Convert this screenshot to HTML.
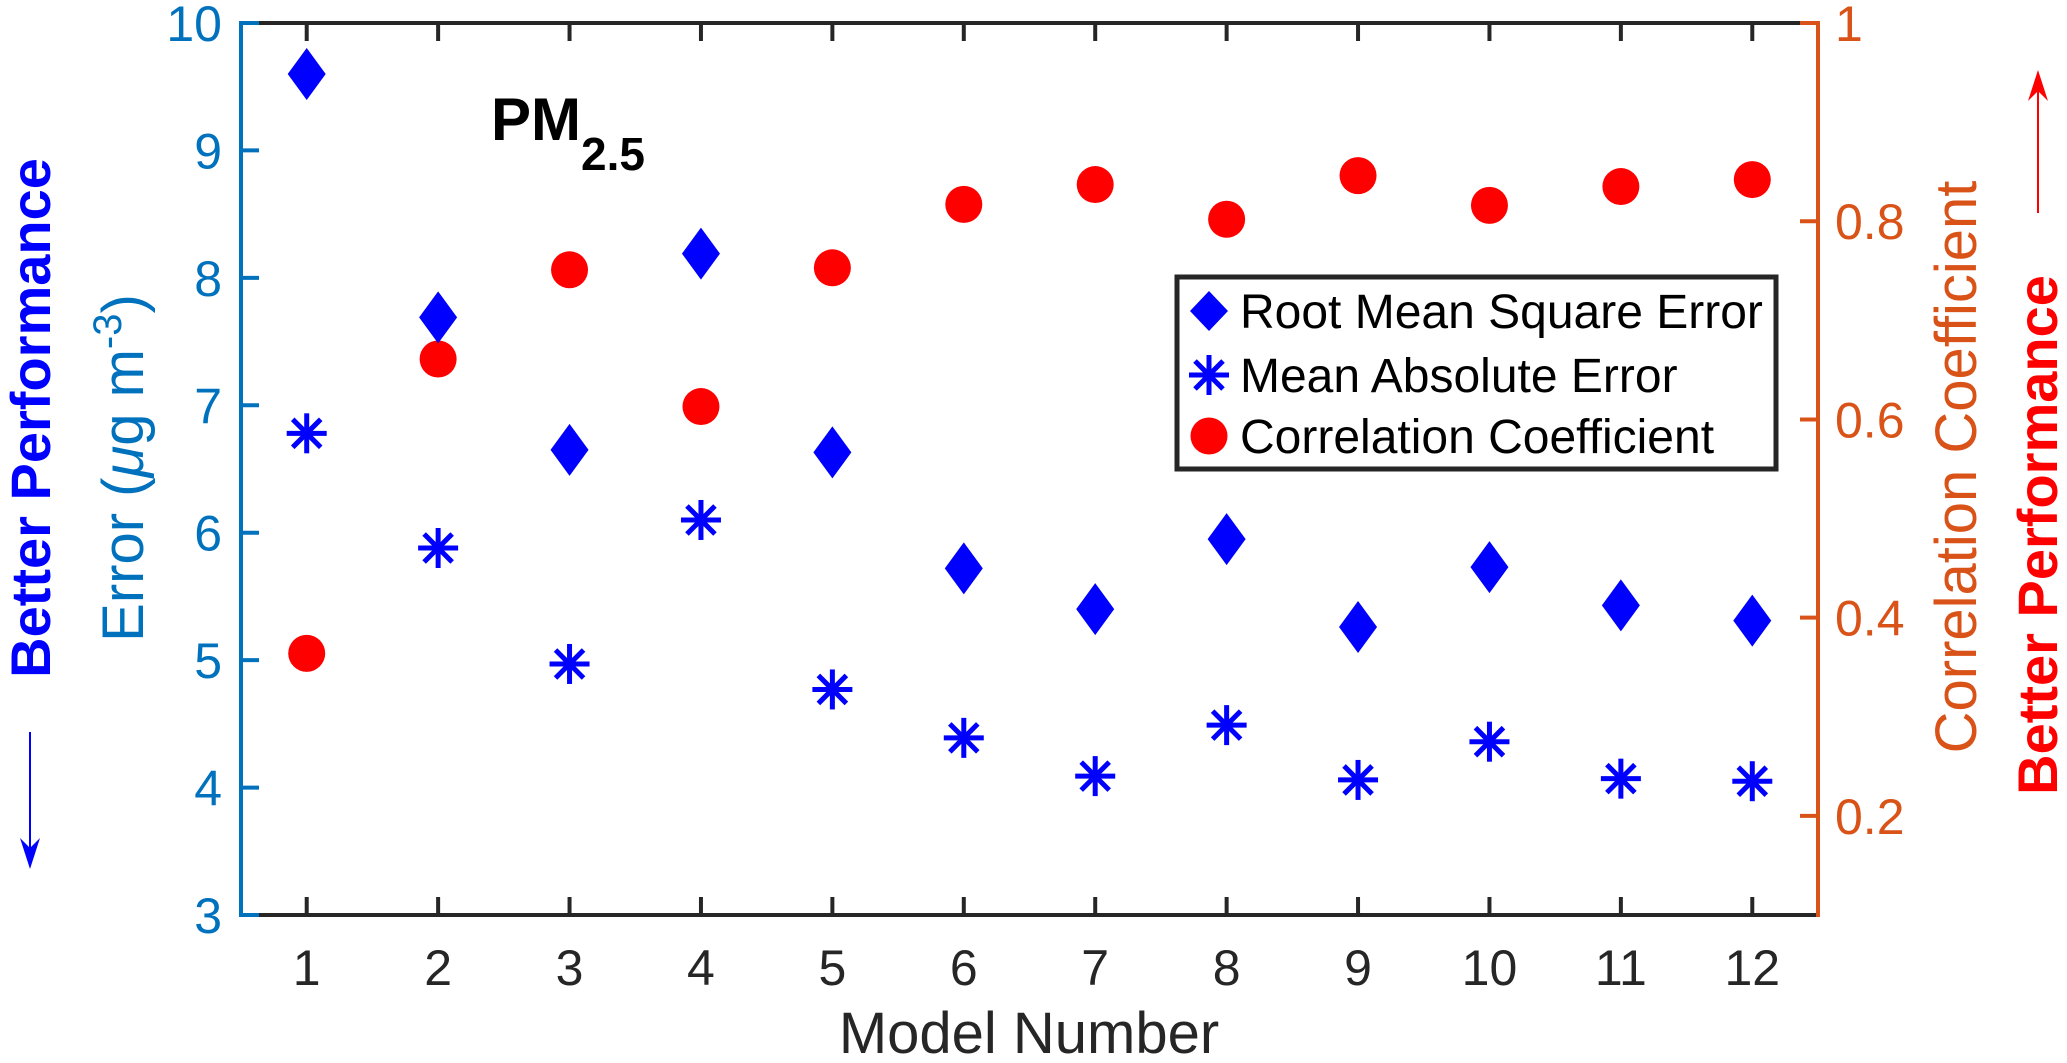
<!DOCTYPE html>
<html><head><meta charset="utf-8"><style>
html,body{margin:0;padding:0;background:#fff;}
svg{display:block;font-family:"Liberation Sans",Arial,sans-serif;}
</style></head><body>
<svg id="chart" width="2067" height="1063" viewBox="0 0 2067 1063">
<g id="marks"></g>
<g id="axes"></g>
<text x="491" y="140" font-size="60" font-weight="bold" fill="#000">PM<tspan font-size="46" dy="30">2.5</tspan></text>
<text x="1029" y="1053" font-size="58" fill="#262626" text-anchor="middle">Model Number</text>
<text transform="translate(143,468) rotate(-90)" font-size="58" fill="#0072BD" text-anchor="middle">Error (<tspan font-style="italic">μ</tspan>g m<tspan font-size="40" dy="-22">-3</tspan><tspan dy="22">)</tspan></text>
<text transform="translate(1976,467) rotate(-90)" font-size="58" fill="#D95319" text-anchor="middle">Correlation Coefficient</text>
<text transform="translate(50,418) rotate(-90)" font-size="56" font-weight="bold" fill="#0000FF" text-anchor="middle">Better Performance</text>
<g><line x1="30" y1="732" x2="30" y2="850" stroke="#0000FF" stroke-width="2"/><path d="M20,838 L30,869 L40,838 L30,848 Z" fill="#0000FF"/></g>
<text transform="translate(2057,535) rotate(-90)" font-size="56" font-weight="bold" fill="#FF0000" text-anchor="middle">Better Performance</text>
<g><line x1="2038" y1="213" x2="2038" y2="90" stroke="#FF0000" stroke-width="2"/><path d="M2028,101 L2038,70 L2048,101 L2038,91 Z" fill="#FF0000"/></g>
<g>
<rect x="1177" y="277" width="599" height="192" fill="#fff" stroke="#262626" stroke-width="5"/>
<path d="M1209,291 L1228,311 L1209,331 L1190,311 Z" fill="#0000FF"/>
<text x="1240" y="328" font-size="48" fill="#000">Root Mean Square Error</text>
<g stroke="#0000FF" stroke-width="5"><line x1="1209" y1="355" x2="1209" y2="395"/><line x1="1189" y1="375" x2="1229" y2="375"/><line x1="1195" y1="361" x2="1223" y2="389"/><line x1="1223" y1="361" x2="1195" y2="389"/></g>
<text x="1240" y="392" font-size="48" fill="#000">Mean Absolute Error</text>
<circle cx="1209" cy="436" r="18.5" fill="#FF0000"/>
<text x="1240" y="453" font-size="48" fill="#000">Correlation Coefficient</text>
</g>
</svg>
<script>
const models = [1,2,3,4,5,6,7,8,9,10,11,12];
const rmse = [9.60,7.69,6.65,8.19,6.63,5.72,5.40,5.95,5.26,5.73,5.43,5.31];
const mae = [6.78,5.88,4.97,6.10,4.77,4.39,4.09,4.49,4.06,4.36,4.07,4.05];
const corr = [0.364,0.661,0.751,0.613,0.753,0.817,0.837,0.802,0.846,0.816,0.835,0.842];
const leftTicks = [3,4,5,6,7,8,9,10];
const rightTicks = [0.2,0.4,0.6,0.8,1];

const NS='http://www.w3.org/2000/svg';
const X0=241,X1=1818,Y0=23,Y1=915;
const xS=v=>X0+(v-0.5)/(12)*(X1-X0);
const yL=v=>Y1-(v-3)/7*(Y1-Y0);
const yR=v=>Y1-(v-0.1)/0.9*(Y1-Y0);
function mk(tag,attrs,parent){const e=document.createElementNS(NS,tag);for(const k in attrs)e.setAttribute(k,attrs[k]);parent.appendChild(e);return e;}
const marks=document.getElementById('marks');
const axes=document.getElementById('axes');

let el;
el=mk('line',{x1:X0,y1:Y0,x2:X1,y2:Y0,stroke:'#262626','stroke-width':4},axes);


el=mk('line',{x1:X0,y1:Y1,x2:X1,y2:Y1,stroke:'#262626','stroke-width':4},axes);


el=mk('line',{x1:X0,y1:Y0-2,x2:X0,y2:Y1+2,stroke:'#0072BD','stroke-width':4},axes);


el=mk('line',{x1:X1,y1:Y0-2,x2:X1,y2:Y1+2,stroke:'#D95319','stroke-width':4},axes);



models.forEach(m=>{
  const x=xS(m);
  el=mk('line',{x1:x,y1:Y1,x2:x,y2:Y1-18,stroke:'#262626','stroke-width':4},axes);
  
  
  el=mk('line',{x1:x,y1:Y0,x2:x,y2:Y0+18,stroke:'#262626','stroke-width':4},axes);
  
  
  el=mk('text',{x:x,y:985,'font-size':50,fill:'#262626','text-anchor':'middle'},axes);
  el.textContent=m;
  
  
});
leftTicks.forEach(v=>{
  const y=yL(v);
  el=mk('line',{x1:X0,y1:y,x2:X0+18,y2:y,stroke:'#0072BD','stroke-width':4},axes);
  
  
  el=mk('text',{x:222,y:y+18,'font-size':50,fill:'#0072BD','text-anchor':'end'},axes);
  el.textContent=v;
  
  
});
rightTicks.forEach(v=>{
  const y=yR(v);
  el=mk('line',{x1:X1,y1:y,x2:X1-18,y2:y,stroke:'#D95319','stroke-width':4},axes);
  
  
  el=mk('text',{x:1835,y:y+18,'font-size':50,fill:'#D95319','text-anchor':'start'},axes);
  el.textContent=String(v);
  
  
});

corr.forEach((v,i)=>{
  el=mk('circle',{cx:xS(models[i]),cy:yR(v),r:18.5,fill:'#FF0000'},marks);
  
  
});
rmse.forEach((v,i)=>{
  const x=xS(models[i]),y=yL(v);
  el=mk('path',{d:`M${x},${y-26} L${x+19},${y} L${x},${y+26} L${x-19},${y} Z`,fill:'#0000FF'},marks);
  
  
});
mae.forEach((v,i)=>{
  const x=xS(models[i]),y=yL(v);
  const g=mk('g',{stroke:'#0000FF','stroke-width':5},marks);
  
  
  mk('line',{x1:x,y1:y-20,x2:x,y2:y+20},g);
  mk('line',{x1:x-20,y1:y,x2:x+20,y2:y},g);
  mk('line',{x1:x-14,y1:y-14,x2:x+14,y2:y+14},g);
  mk('line',{x1:x+14,y1:y-14,x2:x-14,y2:y+14},g);
});
</script>
</body></html>
